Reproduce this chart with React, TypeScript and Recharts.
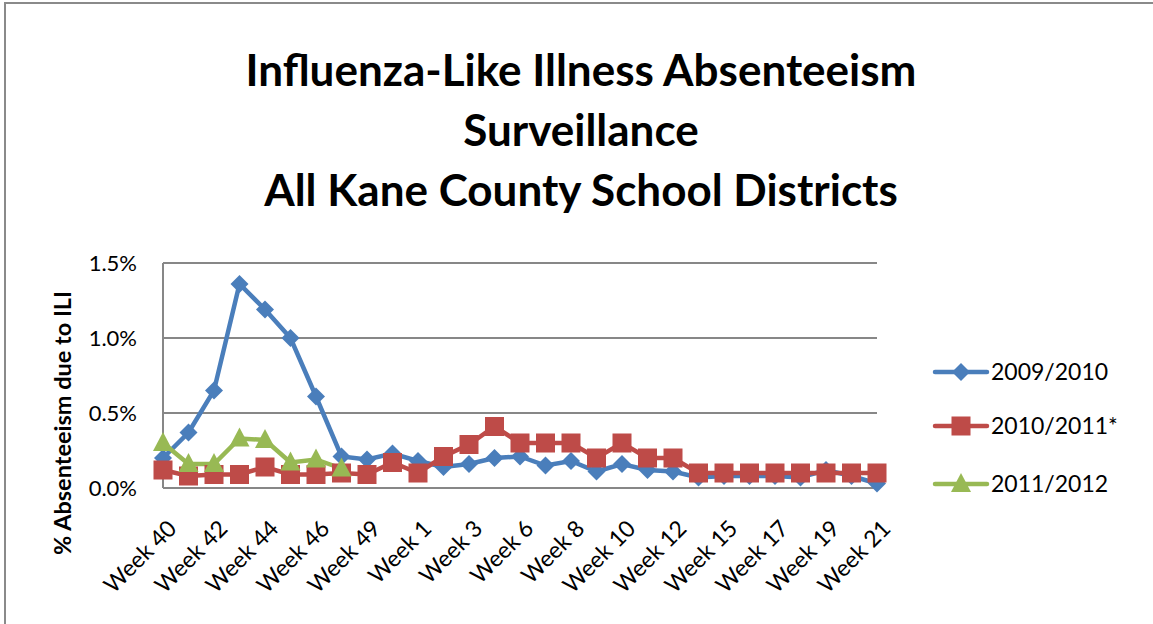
import React from 'react';
import { LineChart, Line, XAxis, YAxis, CartesianGrid } from 'recharts';

const weeks = ['Week 40','Week 41','Week 42','Week 43','Week 44','Week 45','Week 46','Week 47','Week 49','Week 50','Week 1','Week 2','Week 3','Week 5','Week 6','Week 7','Week 8','Week 9','Week 10','Week 11','Week 12','Week 14','Week 15','Week 16','Week 17','Week 18','Week 19','Week 20','Week 21'];
const s2009: number[] = [0.20,0.37,0.65,1.36,1.19,1.00,0.61,0.21,0.19,0.23,0.18,0.14,0.16,0.20,0.21,0.15,0.18,0.11,0.16,0.12,0.11,0.07,0.08,0.08,0.08,0.07,0.12,0.08,0.03];
const s2010: number[] = [0.12,0.08,0.09,0.09,0.14,0.09,0.09,0.10,0.09,0.17,0.10,0.21,0.29,0.41,0.30,0.30,0.30,0.20,0.30,0.20,0.20,0.10,0.10,0.10,0.10,0.10,0.10,0.10,0.10];
const s2011: (number | null)[] = [0.30,0.16,0.16,0.33,0.32,0.17,0.19,0.13];
const yTicks = [0, 0.5, 1.0, 1.5];
const seriesNames = ['2009/2010', '2010/2011*', '2011/2012'];
const titleLines = ['Influenza-Like Illness Absenteeism', 'Surveillance', 'All Kane County School Districts'];
const yLabel = '% Absenteeism due to ILI';

const COLORS = ['#4A7EBB', '#BE4B48', '#98B954'];
const FONT = 'Lato, "Open Sans", sans-serif';

const data = weeks.map((w, i) => ({
  week: w,
  a: s2009[i] ?? null,
  b: s2010[i] ?? null,
  c: i < s2011.length ? s2011[i] : null,
}));

function markerShape(kind: number, cx: number, cy: number, color: string, key?: any) {
  if (kind === 0) {
    const r = 9;
    return <path key={key} d={`M${cx},${cy - r}L${cx + r},${cy}L${cx},${cy + r}L${cx - r},${cy}Z`} fill={color} />;
  }
  if (kind === 1) {
    const h = 9.5;
    return <rect key={key} x={cx - h} y={cy - h} width={2 * h} height={2 * h} fill={color} />;
  }
  return <path key={key} d={`M${cx},${cy - 11}L${cx + 10},${cy + 8}L${cx - 10},${cy + 8}Z`} fill={color} />;
}

const makeDot = (kind: number) => (props: any) => {
  const { cx, cy, index, value } = props;
  if (cx == null || cy == null || value == null || Number.isNaN(cy)) return <g key={`n${kind}-${index}`} />;
  return markerShape(kind, cx, cy, COLORS[kind], `d${kind}-${index}`);
};

const XTick = (props: any) => {
  const { x, y, payload } = props;
  return (
    <text transform={`translate(${x + 15},${y + 42}) rotate(-45)`} textAnchor="end" fontSize={23} fontFamily={FONT} fill="#000">
      {payload.value}
    </text>
  );
};

const YTick = (props: any) => {
  const { y, payload } = props;
  return (
    <text x={137} y={y} dy="0.36em" textAnchor="end" fontSize={22} fontFamily={FONT} fill="#000">
      {payload.value.toFixed(1) + '%'}
    </text>
  );
};

export default function App() {
  return (
    <div style={{ position: 'absolute', left: 0, top: 0, width: 1153, height: 624, background: '#fff', overflow: 'hidden' }}>
      <LineChart width={1153} height={624} data={data} margin={{ top: 263, right: 276, bottom: 0, left: 0 }}>
        <CartesianGrid vertical={false} stroke="#878787" strokeWidth={2} />
        <XAxis dataKey="week" interval={1} tick={<XTick />} tickLine={false} tickSize={0} tickMargin={0} height={136} axisLine={{ stroke: '#878787', strokeWidth: 2 }} />
        <YAxis domain={[0, 1.5]} ticks={yTicks} tick={<YTick />} tickLine={false} width={163} axisLine={{ stroke: '#878787', strokeWidth: 2 }} />
        <Line dataKey="a" name={seriesNames[0]} stroke={COLORS[0]} strokeWidth={4.5} dot={makeDot(0)} activeDot={false} isAnimationActive={false} />
        <Line dataKey="b" name={seriesNames[1]} stroke={COLORS[1]} strokeWidth={4.5} dot={makeDot(1)} activeDot={false} isAnimationActive={false} />
        <Line dataKey="c" name={seriesNames[2]} stroke={COLORS[2]} strokeWidth={4.5} dot={makeDot(2)} activeDot={false} isAnimationActive={false} />
      </LineChart>
      <svg width={1153} height={624} style={{ position: 'absolute', left: 0, top: 0, pointerEvents: 'none' }}>
        <path d="M5,640 L5,3 L1160,3" fill="none" stroke="#8a8a8a" strokeWidth={2} />
        {titleLines.map((t, i) => (
          <text key={t} x={581} y={86 + i * 60} textAnchor="middle" fontSize={44} fontWeight={700} fontFamily={FONT} fill="#000">{t}</text>
        ))}
        <text x={71} y={423} transform="rotate(-90, 71, 423)" textAnchor="middle" fontSize={23.5} fontWeight={700} fontFamily={FONT} fill="#000">{yLabel}</text>
        {seriesNames.map((n, i) => {
          const cy = [372, 426, 484][i];
          return (
            <g key={n}>
              <line x1={935} x2={987} y1={cy} y2={cy} stroke={COLORS[i]} strokeWidth={4.5} strokeLinecap="round" />
              {markerShape(i, 961, cy, COLORS[i])}
              <text x={991} y={cy} dy="0.36em" fontSize={23} fontFamily={FONT} fill="#000">{n}</text>
            </g>
          );
        })}
      </svg>
    </div>
  );
}
